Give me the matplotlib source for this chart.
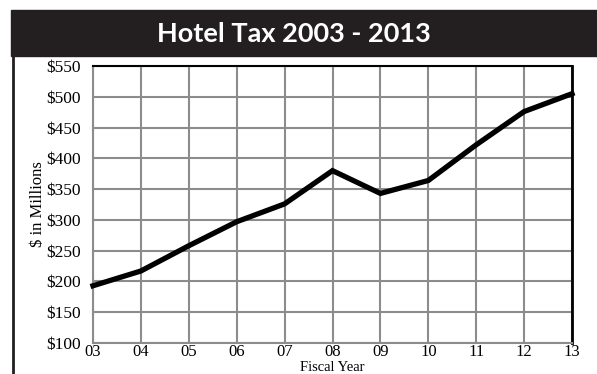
import matplotlib
matplotlib.use('Agg')
import matplotlib.pyplot as plt
from matplotlib.patches import Rectangle
from matplotlib.lines import Line2D

# data
years = ['03', '04', '05', '06', '07', '08', '09', '10', '11', '12', '13']
tax = [193, 217, 258, 297, 326, 380, 343, 364, 422, 476, 505]
yticks = [100, 150, 200, 250, 300, 350, 400, 450, 500, 550]

W, H = 597, 374
fig = plt.figure(figsize=(W / 100, H / 100), dpi=100)

# black title banner + left frame line
fig.patches.append(Rectangle((11 / W, 1 - 56 / H), 1 - 11 / W, 46 / H,
                             transform=fig.transFigure, color='#231f20', zorder=0))
fig.lines.append(Line2D([13 / W, 13 / W], [0, 1 - 56 / H], transform=fig.transFigure,
                        color='#231f20', lw=2))
fig.text(294 / W, 1 - 34 / H, 'Hotel Tax 2003 - 2013', color='white', fontsize=19.5,
         fontweight='bold', family='Lato', ha='center', va='center')
fig.text(300 / W, 1 + 3 / H, 'Chart 7', color='#999999', fontsize=10,
         family='Liberation Serif', ha='center', va='center')

ax = fig.add_axes([93 / W, 1 - 343 / H, (572 - 93) / W, (343 - 66) / H])
x = range(len(years))
ax.plot(x, tax, color='black', lw=3.8, solid_joinstyle='miter', zorder=3, clip_on=False)

ax.set_xlim(0, len(years) - 1)
ax.set_ylim(100, 550)
ax.set_xticks(list(x))
ax.set_xticklabels(years)
ax.set_yticks(yticks)
ax.set_yticklabels(['$%d' % v for v in yticks])
ax.grid(True, color='#8c8c8c', lw=1.5)
ax.set_axisbelow(True)
ax.tick_params(length=0)
ax.tick_params(axis='y', pad=9, labelsize=12.5)
ax.tick_params(axis='x', pad=1, labelsize=12)
for lab in ax.get_xticklabels() + ax.get_yticklabels():
    lab.set_family('Liberation Serif')

ax.spines['top'].set_color('black')
ax.spines['top'].set_linewidth(1.5)
ax.spines['right'].set_color('black')
ax.spines['right'].set_linewidth(2)
ax.spines['left'].set_color('#8c8c8c')
ax.spines['left'].set_linewidth(1.5)
ax.spines['bottom'].set_color('#8c8c8c')
ax.spines['bottom'].set_linewidth(1.5)

fig.text(332 / W, 0, 'Fiscal Year', family='Liberation Serif', fontsize=10.5,
         ha='center', va='bottom')
ax.set_ylabel('$ in Millions', family='Liberation Serif', fontsize=12, labelpad=0)

fig.savefig('out.png', dpi=100)
